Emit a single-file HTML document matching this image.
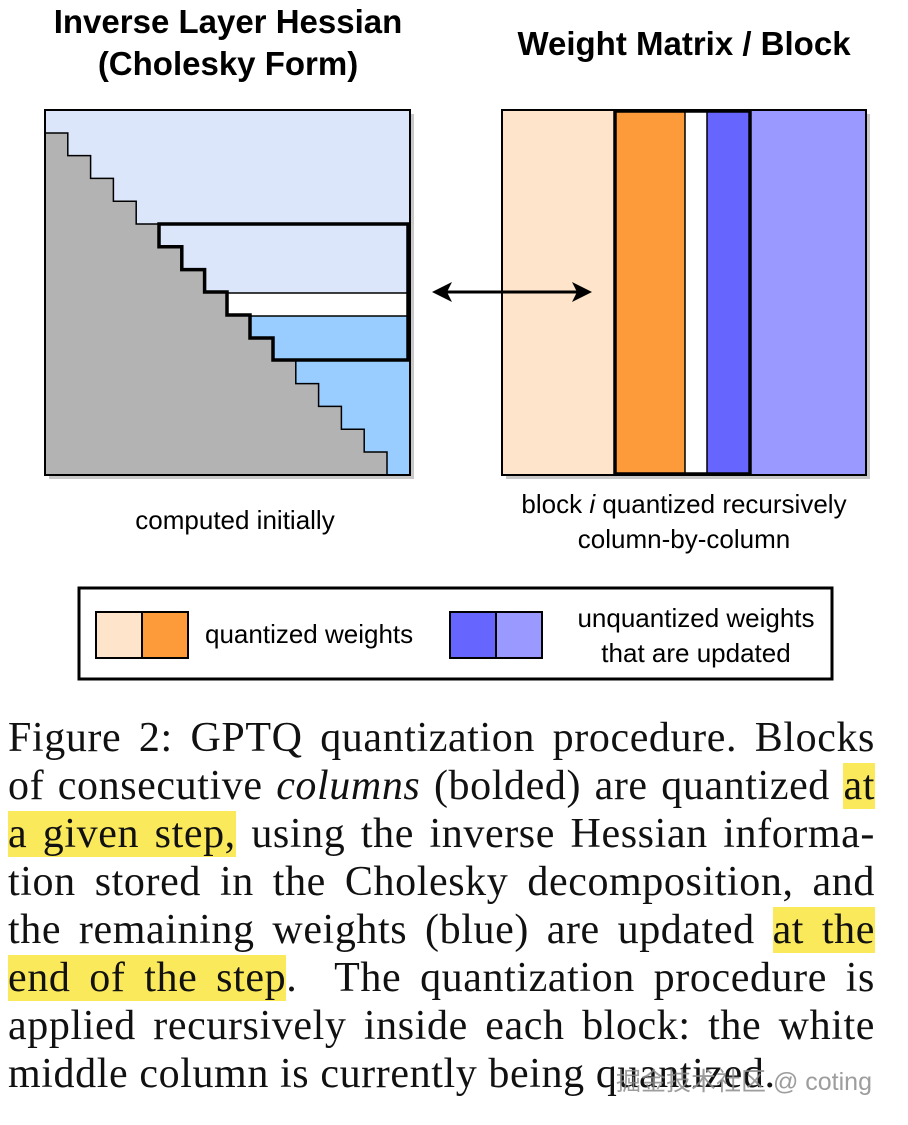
<!DOCTYPE html>
<html><head><meta charset="utf-8"><style>
body{margin:0;background:#fff;width:908px;height:1125px;overflow:hidden;position:relative}
.cap{position:absolute;left:8px;width:867px;font-family:"Liberation Serif",serif;font-size:42px;letter-spacing:0.6px;line-height:48px;text-align:justify;text-align-last:justify;white-space:nowrap;color:#111}
.hl{background:#fbe95c}
</style></head><body>
<svg width="908" height="700" style="position:absolute;left:0;top:0" font-family="Liberation Sans, Arial, sans-serif">
<text x="228" y="33" font-size="33" font-weight="bold" text-anchor="middle">Inverse Layer Hessian</text>
<text x="228" y="75" font-size="33" font-weight="bold" text-anchor="middle">(Cholesky Form)</text>
<text x="684" y="55" font-size="33" font-weight="bold" text-anchor="middle">Weight Matrix / Block</text>
<rect x="49" y="114" width="365" height="365" fill="#c8c8c8"/>
<rect x="506" y="114" width="364" height="365" fill="#c8c8c8"/>
<rect x="45" y="110" width="365" height="365" fill="#dbe6fb"/>
<rect x="45" y="293" width="365" height="23" fill="#fff"/>
<rect x="45" y="316" width="365" height="159" fill="#99ccff"/>
<path d="M45,133 L67.8,133 L67.8,155.6 L90.6,155.6 L90.6,178.4 L113.4,178.4 L113.4,201.2 L136.2,201.2 L136.2,224 L159,224 L159,246.8 L181.8,246.8 L181.8,269.6 L204.6,269.6 L204.6,292.4 L227.4,292.4 L227.4,315.2 L250.2,315.2 L250.2,338 L273,338 L273,360.8 L295.8,360.8 L295.8,383.6 L318.6,383.6 L318.6,406.4 L341.4,406.4 L341.4,429.2 L364.2,429.2 L364.2,452 L387,452 L387,475 L45,475 Z" fill="#b3b3b3" stroke="#000" stroke-width="1.5"/>
<line x1="227" y1="293" x2="409" y2="293" stroke="#000" stroke-width="1.5"/>
<line x1="250" y1="316" x2="409" y2="316" stroke="#000" stroke-width="1.5"/>
<path d="M159,224 L408,224 L408,360 L273,360 L273,338 L250,338 L250,315 L227,315 L227,292 L204.6,292 L204.6,269.6 L181.8,269.6 L181.8,246.8 L159,246.8 Z" fill="none" stroke="#000" stroke-width="3.5"/>
<rect x="45" y="110" width="365" height="365" fill="none" stroke="#000" stroke-width="2"/>
<rect x="502" y="110" width="112" height="365" fill="#fde4ca"/>
<rect x="614" y="110" width="71" height="365" fill="#fd9a3a"/>
<rect x="685" y="110" width="22" height="365" fill="#fff"/>
<rect x="707" y="110" width="44" height="365" fill="#6666ff"/>
<rect x="751" y="110" width="115" height="365" fill="#9999ff"/>
<line x1="685" y1="110" x2="685" y2="475" stroke="#000" stroke-width="1.5"/>
<line x1="707" y1="110" x2="707" y2="475" stroke="#000" stroke-width="1.5"/>
<rect x="502" y="110" width="364" height="365" fill="none" stroke="#000" stroke-width="2"/>
<rect x="615" y="111" width="135" height="363" fill="none" stroke="#000" stroke-width="3.5"/>
<line x1="445" y1="292" x2="578" y2="292" stroke="#000" stroke-width="3"/>
<path d="M432,292 L452,282 L447,292 L452,302 Z" fill="#000"/>
<path d="M592,292 L572,282 L577,292 L572,302 Z" fill="#000"/>
<text x="235" y="529" font-size="26" text-anchor="middle">computed initially</text>
<text x="684" y="513" font-size="26" text-anchor="middle">block <tspan font-style="italic">i</tspan> quantized recursively</text>
<text x="684" y="548" font-size="26" text-anchor="middle">column-by-column</text>
<rect x="79" y="588" width="753" height="91" fill="#fff" stroke="#000" stroke-width="3"/>
<rect x="96" y="612" width="46" height="46" fill="#fde4ca" stroke="#000" stroke-width="2"/>
<rect x="142" y="612" width="46" height="46" fill="#fd9a3a" stroke="#000" stroke-width="2"/>
<text x="205" y="643" font-size="26">quantized weights</text>
<rect x="450" y="612" width="46" height="46" fill="#6666ff" stroke="#000" stroke-width="2"/>
<rect x="496" y="612" width="46" height="46" fill="#9999ff" stroke="#000" stroke-width="2"/>
<text x="696" y="627" font-size="26" text-anchor="middle">unquantized weights</text>
<text x="696" y="662" font-size="26" text-anchor="middle">that are updated</text>
</svg>
<div class="cap" style="top:714px">Figure 2: GPTQ quantization procedure. Blocks</div>
<div class="cap" style="top:762px">of consecutive <i>columns</i> (bolded) are quantized <span class="hl">at</span></div>
<div class="cap" style="top:810px"><span class="hl">a given step,</span> using the inverse Hessian informa-</div>
<div class="cap" style="top:858px">tion stored in the Cholesky decomposition, and</div>
<div class="cap" style="top:906px">the remaining weights (blue) are updated <span class="hl">at the</span></div>
<div class="cap" style="top:954px"><span class="hl">end of the step</span>.&nbsp; The quantization procedure is</div>
<div class="cap" style="top:1002px">applied recursively inside each block: the white</div>
<div class="cap" style="top:1050px;text-align-last:left">middle column is currently being quantized.</div>
<div style="position:absolute;left:616px;top:1062px;font-family:'Liberation Sans','Noto Sans CJK SC',sans-serif;font-size:25px;color:rgba(140,140,140,0.85)">掘金技术社区 @ coting</div>
</body></html>
